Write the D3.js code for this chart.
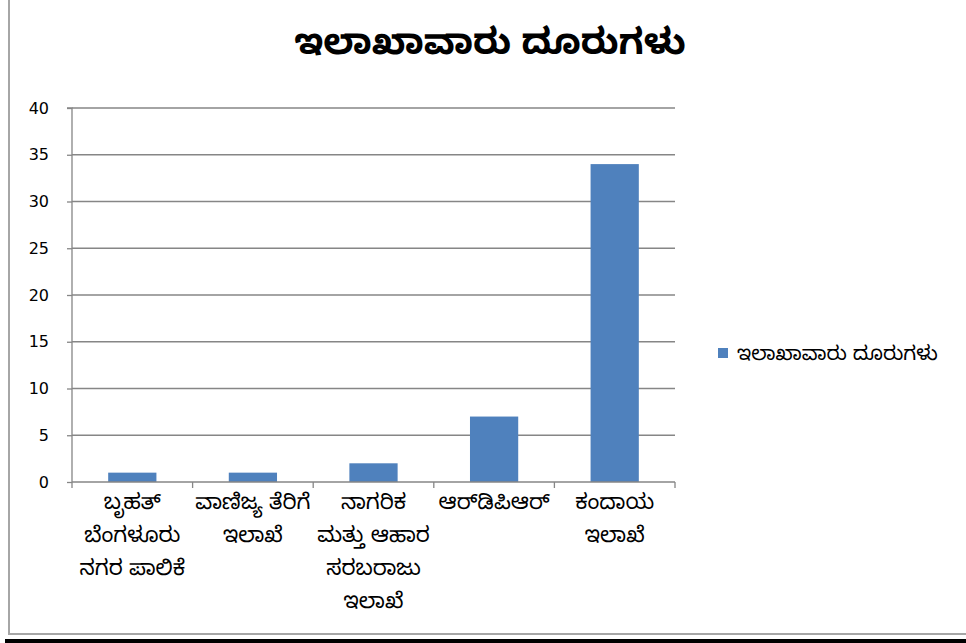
<!DOCTYPE html>
<html><head><meta charset="utf-8">
<script src="https://cdn.jsdelivr.net/npm/d3@7"></script>
<style>
html,body{margin:0;padding:0;background:#fff;}
svg{display:block;}
text{font-family:"Noto Sans Kannada","Noto Sans","DejaVu Sans",sans-serif;}
</style></head>
<body>
<svg id="chart" width="966" height="643"></svg>
<script>
const title = "ಇಲಾಖಾವಾರು ದೂರುಗಳು";
const seriesName = "ಇಲಾಖಾವಾರು ದೂರುಗಳು";
const categories = [
  ["ಬೃಹತ್", "ಬೆಂಗಳೂರು", "ನಗರ ಪಾಲಿಕೆ"],
  ["ವಾಣಿಜ್ಯ ತೆರಿಗೆ", "ಇಲಾಖೆ"],
  ["ನಾಗರಿಕ", "ಮತ್ತು ಆಹಾರ", "ಸರಬರಾಜು", "ಇಲಾಖೆ"],
  ["ಆರ್‌ಡಿಪಿಆರ್"],
  ["ಕಂದಾಯ", "ಇಲಾಖೆ"]
];
const values = [1, 1, 2, 7, 34];
const yTicks = [0, 5, 10, 15, 20, 25, 30, 35, 40];

const svg = d3.select("#chart");
const W = 966, H = 643;

// frame
svg.append("rect").attr("x", 9).attr("y", -2).attr("width", W).attr("height", 636)
  .attr("fill", "none").attr("stroke", "#a6a6a6").attr("stroke-width", 2);
svg.append("rect").attr("x", 5).attr("y", 639).attr("width", W).attr("height", 4).attr("fill", "#000");

const x0 = 72, x1 = 675, yTop = 108, yBot = 482;
const x = d3.scaleBand().domain(d3.range(values.length)).range([x0, x1]).paddingInner(0.6).paddingOuter(0.3);
const xb = d3.scaleBand().domain(d3.range(values.length)).range([x0, x1]);
const y = d3.scaleLinear().domain([0, 40]).range([yBot, yTop]);

// gridlines
svg.append("g").selectAll("line").data(yTicks.filter(d => d > 0)).join("line")
  .attr("x1", x0).attr("x2", x1).attr("y1", d => y(d)).attr("y2", d => y(d))
  .attr("stroke", "#868686").attr("stroke-width", 1.3);

// y axis
const yAxis = svg.append("g").attr("transform", `translate(${x0},0)`)
  .call(d3.axisLeft(y).tickValues(yTicks).tickSize(5).tickPadding(18));
yAxis.select(".domain").attr("stroke", "#868686").attr("stroke-width", 1.3).attr("d", `M-5,${yTop}H0V${yBot}`);
yAxis.selectAll(".tick line").attr("stroke", "#868686").attr("stroke-width", 1.3);
yAxis.selectAll(".tick text").attr("fill", "#000").style("font-size", "16px")
  .style("font-family", "'DejaVu Sans','Liberation Sans',sans-serif").style("font-weight", "normal");

// bars
svg.append("g").selectAll("rect").data(values).join("rect")
  .attr("x", (d, i) => x(i)).attr("width", x.bandwidth())
  .attr("y", d => y(d)).attr("height", d => y(0) - y(d))
  .attr("fill", "#4f81bd");

// x axis
const xAxis = svg.append("g").attr("transform", `translate(0,${yBot})`);
xAxis.append("line").attr("x1", x0).attr("x2", x1).attr("y1", 0).attr("y2", 0)
  .attr("stroke", "#868686").attr("stroke-width", 1.5);
const bounds = xb.domain().map(i => xb(i)).concat([x1]);
xAxis.selectAll("line.t").data(bounds).join("line").attr("class", "t")
  .attr("x1", d => d).attr("x2", d => d).attr("y1", 0).attr("y2", 6)
  .attr("stroke", "#868686").attr("stroke-width", 1.3);

const lab = svg.append("g").selectAll("text").data(categories).join("text")
  .attr("text-anchor", "middle").attr("fill", "#000").style("font-size", "21.5px");
lab.each(function(lines, i) {
  const t = d3.select(this);
  lines.forEach((ln, k) => {
    t.append("tspan").attr("x", xb(i) + xb.bandwidth() / 2).attr("y", 509 + k * 33).text(ln);
  });
});

// title
svg.append("text").attr("x", 490).attr("y", 54).attr("text-anchor", "middle")
  .style("font-size", "36px").style("font-weight", "bold").attr("fill", "#000").text(title);

// legend
svg.append("rect").attr("x", 718).attr("y", 348).attr("width", 10).attr("height", 10).attr("fill", "#4f81bd");
svg.append("text").attr("x", 737).attr("y", 360).style("font-size", "20px").attr("fill", "#000").text(seriesName);
</script>
</body></html>
